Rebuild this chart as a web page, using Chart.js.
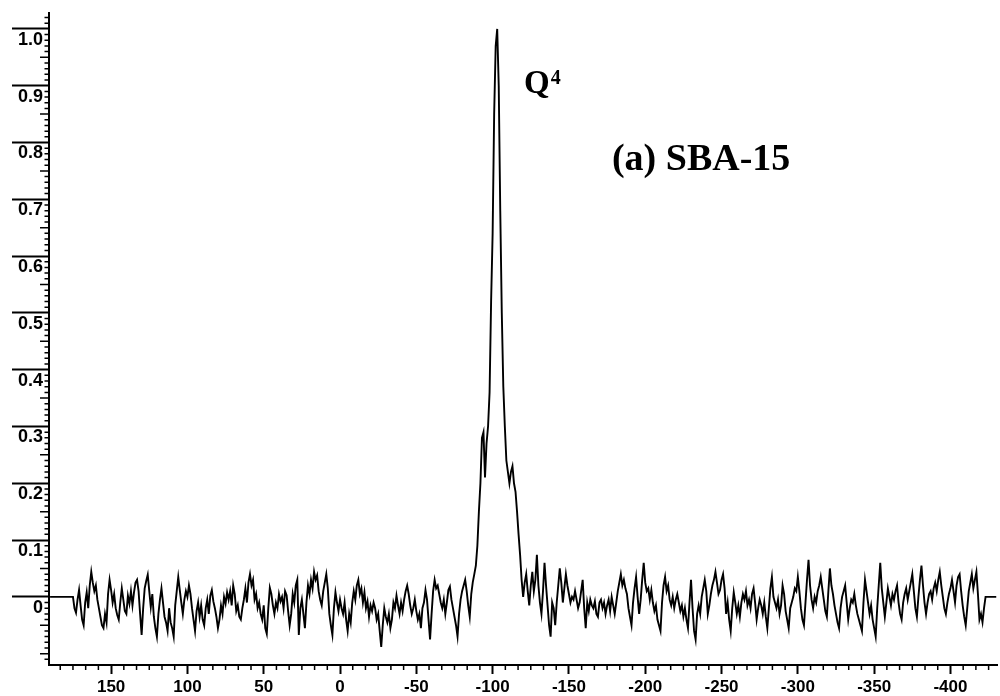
<!DOCTYPE html>
<html>
<head>
<meta charset="utf-8">
<script src="https://cdn.jsdelivr.net/npm/chart.js@4.4.0/dist/chart.umd.min.js"></script>
<style>
    html, body { margin: 0; padding: 0; background: #fff; }
    #wrap { width: 1000px; height: 696px; }
</style>
</head>
<body>
<div id="wrap"><canvas id="nmrChart" width="1000" height="696"></canvas></div>
<script>
// 29Si spectrum, chemical shift in ppm (step -1 ppm inside each segment)
const flatLeftStart = 190;
const flatLeft = [0, 0, 0, 0, 0, 0, 0, 0, 0, 0, 0, 0, 0, 0, 0];

const noiseLeftStart = 175;
const noiseLeft = [
    0.000, -0.020, -0.028, -0.005, 0.012, -0.015, -0.040, -0.050, -0.010, 0.008,
    -0.020, 0.020, 0.044, 0.025, 0.010, 0.020, -0.005, -0.020, -0.035, -0.050,
    -0.055, -0.030, -0.045, 0.005, 0.030, 0.012, -0.010, 0.005, -0.020, -0.032,
    -0.040, -0.010, 0.015, -0.005, -0.025, -0.030, 0.002, -0.012, 0.010, -0.015,
    0.008, 0.025, 0.030, 0.010, -0.030, -0.067, -0.020, 0.015, 0.028, 0.039,
    0.010, -0.018, 0.005, -0.035, -0.055, -0.070, -0.030, -0.005, 0.015, -0.010,
    -0.035, -0.045, -0.060, -0.020, -0.045, -0.055, -0.070, -0.015, 0.010, 0.035,
    0.012, -0.010, -0.030, -0.005, 0.010, 0.000, 0.020, 0.005, -0.020, -0.040,
    -0.060, -0.025, -0.010, -0.035, -0.015, -0.040, -0.050, -0.020, -0.005, -0.030,
    0.002, 0.012, -0.008, -0.020, -0.035, -0.055, -0.040, -0.015, -0.030, 0.000,
    -0.012, 0.008, -0.005, 0.010, -0.015, 0.020, 0.005, -0.025, -0.015, -0.035,
    -0.040, -0.020, -0.005, 0.015, -0.010, 0.025, 0.040, 0.020, 0.030, -0.005,
    0.005, -0.020, -0.010, -0.030, -0.040, -0.015, -0.055, -0.065, -0.020, 0.016,
    0.005, -0.015, -0.030, -0.010, -0.020, 0.005, -0.008, 0.000, -0.020, 0.010,
    0.003, -0.025, -0.050, -0.030, 0.005, -0.010, 0.020, 0.030, -0.067, -0.020,
    -0.005, -0.030, -0.055, -0.010, 0.020, 0.005, 0.030, 0.015, 0.044, 0.030,
    0.038, 0.010, -0.005, -0.015, 0.010, 0.025, 0.040, 0.015, -0.030, -0.050,
    -0.067, -0.020, 0.008, -0.010, -0.025, -0.005, -0.020, -0.030, -0.010, -0.040,
    -0.060, -0.030, -0.045, -0.010, 0.010, -0.005, 0.020, 0.030, 0.005, 0.015,
    -0.010, 0.008, -0.020, -0.008, -0.035, -0.015, -0.025, -0.010, -0.020, -0.040,
    -0.030, -0.060, -0.088, -0.050, -0.020, -0.035, -0.045, -0.030, -0.055, -0.040,
    -0.010, -0.020, 0.002, -0.015, -0.030, -0.010, -0.025, -0.005, 0.010, 0.020,
    0.005, -0.015, -0.030, -0.020, -0.005, -0.025, -0.040, -0.030, -0.055, -0.020,
    -0.010, 0.012, -0.005, -0.040, -0.075, -0.030, 0.010, 0.030, 0.015, 0.020,
    0.005, -0.010, -0.020, -0.005, -0.030, -0.010, 0.012, 0.018, -0.005, -0.020,
    -0.035, -0.050, -0.070, -0.030, -0.005, 0.010, 0.020, 0.030, 0.010, -0.015,
    -0.035
];

const peakStart = -86;
const peak = [
    0.005, 0.026, 0.040, 0.055, 0.090, 0.150, 0.200, 0.280, 0.290, 0.210,
    0.270, 0.300, 0.360, 0.520, 0.640, 0.850, 0.970, 1.000, 0.900, 0.680,
    0.500, 0.370, 0.300, 0.240, 0.220, 0.200, 0.220, 0.230, 0.200, 0.185,
    0.150, 0.110, 0.074, 0.030, 0.000
];

const noiseRightStart = -121;
const noiseRight = [
    0.025, 0.040, 0.010, -0.015, 0.020, 0.044, 0.010, 0.030, 0.074, 0.020,
    -0.010, -0.030, 0.010, 0.060, 0.020, -0.015, -0.050, -0.070, -0.010, -0.020,
    -0.050, -0.010, 0.020, 0.050, 0.025, -0.010, 0.015, 0.040, 0.020, 0.005,
    -0.010, 0.000, -0.005, 0.010, -0.005, -0.020, -0.010, 0.010, 0.030, -0.020,
    -0.055, -0.010, -0.025, -0.005, -0.015, -0.020, -0.008, -0.030, -0.035, -0.010,
    -0.005, -0.020, -0.010, -0.030, -0.015, -0.005, -0.025, 0.000, -0.015, -0.030,
    -0.010, 0.010, 0.025, 0.040, 0.020, 0.030, 0.015, 0.005, -0.020, -0.035,
    -0.050, -0.010, 0.015, 0.035, 0.000, -0.030, -0.005, 0.030, 0.060, 0.025,
    0.010, 0.015, -0.005, 0.012, -0.010, -0.025, -0.015, -0.040, -0.050, -0.060,
    -0.010, 0.020, 0.035, 0.010, 0.020, -0.005, -0.015, 0.000, -0.020, -0.005,
    0.005, -0.010, -0.025, -0.015, -0.035, -0.020, -0.040, -0.055, -0.010, 0.030,
    -0.020, -0.060, -0.075, -0.030, -0.015, -0.030, 0.000, 0.015, 0.030, 0.010,
    -0.030, -0.015, 0.005, 0.020, 0.030, 0.044, 0.025, 0.005, 0.012, 0.030,
    0.040, 0.015, -0.030, -0.010, -0.040, -0.060, -0.020, 0.008, -0.010, -0.030,
    -0.015, -0.035, -0.010, 0.005, -0.005, 0.010, -0.015, -0.005, -0.020, 0.005,
    0.015, -0.010, -0.040, -0.020, -0.005, -0.015, -0.030, -0.010, -0.035, -0.055,
    -0.020, 0.015, 0.035, 0.000, -0.010, -0.020, -0.005, -0.030, -0.015, 0.020,
    0.005, -0.025, -0.040, -0.055, -0.020, -0.010, 0.000, 0.015, 0.010, 0.035,
    0.010, -0.020, -0.040, -0.050, -0.010, 0.030, 0.065, 0.020, -0.005, -0.020,
    0.000, -0.010, 0.010, 0.020, 0.035, 0.015, -0.005, -0.025, -0.035, 0.010,
    0.050, 0.020, 0.005, -0.015, -0.030, -0.045, -0.055, -0.020, 0.000, 0.010,
    0.020, -0.010, -0.040, -0.020, -0.005, -0.010, 0.005, -0.015, -0.030, -0.040,
    -0.050, -0.060, -0.010, 0.030, 0.010, -0.010, -0.030, -0.015, -0.040, -0.055,
    -0.070, -0.020, 0.020, 0.060, 0.015, -0.010, -0.035, -0.010, 0.015, 0.000,
    -0.015, 0.005, -0.005, 0.010, 0.020, -0.010, -0.030, -0.040, -0.010, 0.005,
    0.015, -0.005, 0.010, 0.025, 0.040, 0.010, -0.020, -0.035, 0.000, 0.030,
    0.055, 0.020, -0.010, -0.030, -0.010, 0.005, 0.010, -0.005, 0.015, 0.025,
    0.010, 0.030, 0.044, 0.020, 0.000, -0.020, -0.030, -0.010, 0.005, 0.015,
    0.030, 0.010, -0.010, 0.020, 0.035, 0.040, 0.010, -0.015, -0.035, -0.050,
    -0.020, 0.010, 0.025, 0.040, 0.015, 0.030, 0.044, 0.005, -0.040, -0.030,
    -0.045, -0.020, 0.000
];

const flatRightStart = -424;
const flatRight = [0, 0, 0, 0, 0, 0, 0];

const xMin = -430.5;
const xMax = 190.7;
const yMin = -0.12;
const yMax = 1.028;

const segments = [
    [flatLeftStart, flatLeft],
    [noiseLeftStart, noiseLeft],
    [peakStart, peak],
    [noiseRightStart, noiseRight],
    [flatRightStart, flatRight]
];
const points = segments.flatMap(([start, vals]) => vals.map((v, i) => ({x: start - i, y: v})));

const xFont = {family: '"Liberation Sans", Arial, sans-serif', size: 17, weight: 'bold'};
const yFont = {family: '"Liberation Sans", Arial, sans-serif', size: 18, weight: 'bold'};

// minor ticks + labels in the plot
const extras = {
    id: 'extras',
    afterDraw(chart) {
        const ctx = chart.ctx;
        const xs = chart.scales.x;
        const ys = chart.scales.y;
        const area = chart.chartArea;
        ctx.save();
        ctx.strokeStyle = '#000';
        ctx.lineWidth = 1.5;
        ctx.beginPath();
        const xStep = 50 / 6;
        for (let i = Math.ceil(xMin / xStep); i <= Math.floor(xMax / xStep); i++) {
            if (i % 6 === 0) continue;
            const px = xs.getPixelForValue(i * xStep);
            ctx.moveTo(px, area.bottom);
            ctx.lineTo(px, area.bottom + 5);
        }
        for (let j = -11; j <= 102; j++) {
            if (j % 10 === 0 && j >= 0) continue;
            const py = ys.getPixelForValue(j / 100);
            const len = j % 5 === 0 ? 9 : 4.5;
            ctx.moveTo(area.left - len, py);
            ctx.lineTo(area.left, py);
        }
        ctx.stroke();

        ctx.fillStyle = '#000';
        ctx.textBaseline = 'alphabetic';
        ctx.textAlign = 'left';
        ctx.font = 'bold 33px "Liberation Serif", "Times New Roman", serif';
        const qx = xs.getPixelForValue(-120.6);
        ctx.fillText('Q', qx, ys.getPixelForValue(0.887));
        const qw = ctx.measureText('Q').width;
        ctx.font = 'bold 20px "Liberation Serif", "Times New Roman", serif';
        ctx.fillText('4', qx + qw + 1, ys.getPixelForValue(0.903));

        ctx.font = 'bold 38px "Liberation Serif", "Times New Roman", serif';
        ctx.fillText('(a) SBA-15', xs.getPixelForValue(-178.2), ys.getPixelForValue(0.752));
        ctx.restore();
    }
};

new Chart(document.getElementById('nmrChart').getContext('2d'), {
    type: 'line',
    data: {
        datasets: [{
            data: points,
            borderColor: '#000000',
            borderWidth: 1.9,
            pointRadius: 0,
            tension: 0,
            fill: false
        }]
    },
    options: {
        responsive: false,
        devicePixelRatio: 1,
        animation: false,
        layout: {padding: {top: 13, right: 3, bottom: 0, left: 0}},
        plugins: {
            legend: {display: false},
            tooltip: {enabled: false}
        },
        scales: {
            x: {
                type: 'linear',
                reverse: true,
                min: xMin,
                max: xMax,
                border: {display: true, color: '#000', width: 2},
                grid: {drawOnChartArea: false, drawTicks: true, tickLength: 9, tickWidth: 2, tickColor: '#000'},
                ticks: {
                    stepSize: 50,
                    includeBounds: false,
                    autoSkip: false,
                    maxRotation: 0,
                    padding: 3,
                    color: '#000',
                    font: xFont,
                    callback: v => String(Math.round(v))
                },
                afterFit: scale => { scale.height = 31; }
            },
            y: {
                type: 'linear',
                min: yMin,
                max: yMax,
                border: {display: true, color: '#000', width: 2},
                grid: {
                    drawOnChartArea: false,
                    drawTicks: true,
                    tickLength: 37,
                    tickWidth: 2,
                    tickColor: c => (c.tick && c.tick.value < -1e-9) ? 'rgba(0,0,0,0)' : '#000'
                },
                ticks: {
                    stepSize: 0.1,
                    includeBounds: false,
                    padding: -31,
                    labelOffset: 11,
                    color: '#000',
                    font: yFont,
                    callback: v => v < -1e-9 ? '' : (Math.abs(v) < 1e-9 ? '0' : v.toFixed(1))
                },
                afterFit: scale => { scale.width = 49; }
            }
        }
    },
    plugins: [extras]
});
</script>
</body>
</html>
